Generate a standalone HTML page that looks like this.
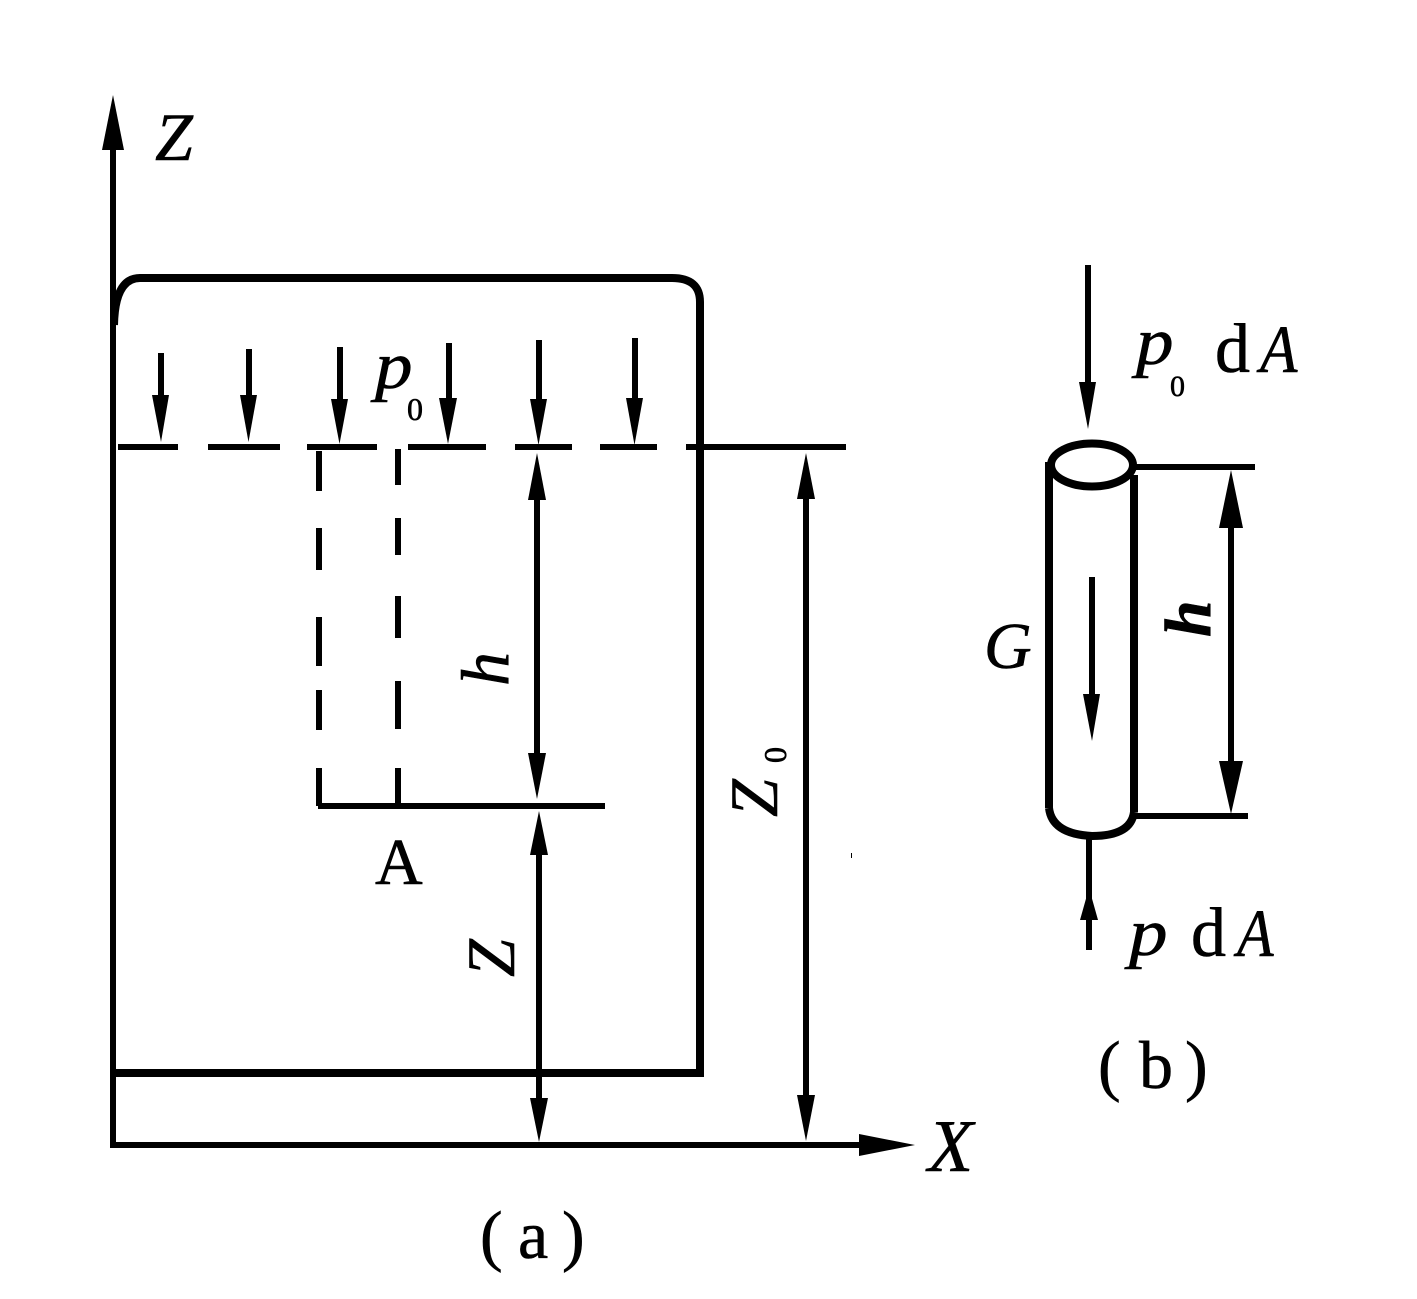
<!DOCTYPE html>
<html>
<head>
<meta charset="utf-8">
<style>
html,body{margin:0;padding:0;background:#fff;}
svg{display:block;}
text{font-family:"Liberation Serif",serif;fill:#000;stroke:#000;stroke-width:.6px;}
.i{font-style:italic;}
</style>
</head>
<body>
<svg width="1417" height="1299" viewBox="0 0 1417 1299" xmlns="http://www.w3.org/2000/svg">
<rect width="1417" height="1299" fill="#fff"/>
<!-- axes -->
<g fill="#000" shape-rendering="crispEdges">
<rect x="110" y="140" width="6" height="1008"/>
<rect x="110" y="1142" width="760" height="6"/>
</g>
<polygon points="113,95 124,150 102,150" fill="#000"/>
<polygon points="915,1145 859,1134 859,1156" fill="#000"/>
<!-- vessel -->
<path d="M113,1073 H700 V302 Q700,278 672,278 H140 Q115,278 114,325" fill="none" stroke="#000" stroke-width="8"/>
<!-- level dashes -->
<g fill="#000" shape-rendering="crispEdges">
<rect x="118" y="444" width="60" height="6"/>
<rect x="208" y="444" width="72" height="6"/>
<rect x="307" y="444" width="70" height="6"/>
<rect x="408" y="444" width="78" height="6"/>
<rect x="515" y="444" width="57" height="6"/>
<rect x="600" y="444" width="57" height="6"/>
<rect x="686" y="444" width="160" height="6"/>
<!-- vertical dashes -->
<rect x="316" y="451" width="6" height="40"/>
<rect x="316" y="528" width="6" height="42"/>
<rect x="316" y="617" width="6" height="49"/>
<rect x="316" y="690" width="6" height="40"/>
<rect x="316" y="768" width="6" height="38"/>
<rect x="395" y="449" width="6" height="36"/>
<rect x="395" y="518" width="6" height="37"/>
<rect x="395" y="596" width="6" height="42"/>
<rect x="395" y="681" width="6" height="48"/>
<rect x="395" y="768" width="6" height="38"/>
<rect x="318" y="803" width="287" height="6"/>
<!-- pressure arrow shafts -->
<rect x="158" y="353" width="6" height="44"/>
<rect x="246" y="349" width="6" height="48"/>
<rect x="337" y="347" width="6" height="54"/>
<rect x="446" y="343" width="6" height="57"/>
<rect x="536" y="340" width="6" height="61"/>
<rect x="632" y="338" width="6" height="62"/>
<!-- dimension shafts -->
<rect x="534" y="495" width="6" height="262"/>
<rect x="536" y="850" width="6" height="250"/>
<rect x="803" y="495" width="6" height="604"/>
<!-- right figure -->
<rect x="1085" y="265" width="6" height="120"/>
<rect x="1086" y="838" width="6" height="112"/>
<rect x="1089" y="577" width="6" height="120"/>
<rect x="1228" y="525" width="6" height="240"/>
<rect x="1136" y="464" width="119" height="6"/>
<rect x="1136" y="813" width="112" height="6"/>
<rect x="851" y="853" width="1" height="5"/>
</g>
<g fill="#000">
<polygon points="161,442 152,395 169,395"/>
<polygon points="248.500,442 240,395 257,395"/>
<polygon points="339.500,444 331,399 348,399"/>
<polygon points="448,444 439,398 457,398"/>
<polygon points="538.500,445 530,399 547,399"/>
<polygon points="634.500,445 626,398 643,398"/>
<!-- h dimension -->
<polygon points="537,453 546,500 528,500"/>
<polygon points="537,799 546,753 528,753"/>
<!-- Z dimension -->
<polygon points="539,811 548,855 530,855"/>
<polygon points="539,1142 548,1098 530,1098"/>
<!-- Z0 dimension -->
<polygon points="806,453 815,499 797,499"/>
<polygon points="806,1141 815,1095 797,1095"/>
<!-- right figure arrows -->
<polygon points="1088,429 1079,382 1096,382"/>
<polygon points="1089,888 1098,920 1080,920"/>
<polygon points="1092,741 1083,694 1100,694"/>
<polygon points="1231,470 1243,528 1219,528"/>
<polygon points="1231,814 1243,761 1219,761"/>
</g>
<!-- cylinder -->
<g fill="none" stroke="#000" stroke-width="8">
<ellipse cx="1092" cy="465" rx="41" ry="21.500"/>
<path d="M1049,462 V808"/>
<path d="M1134,475 V812"/>
<path d="M1049,808 Q1052,834 1092,836 Q1131,836 1134,812"/>
</g>
<!-- labels -->
<text class="i" x="155" y="160" font-size="68">Z</text>
<text class="i" x="928" y="1171" font-size="74">X</text>
<text class="i" transform="translate(375,388) scale(1.12,1)" font-size="67">p</text>
<text x="407" y="420" font-size="32">0</text>
<text x="375" y="884" font-size="66">A</text>
<text class="i" transform="translate(508,686) rotate(-90)" font-size="68">h</text>
<text class="i" transform="translate(514,977) rotate(-90)" font-size="68">Z</text>
<text class="i" transform="translate(777,817) rotate(-90)" font-size="68">Z</text>
<text transform="translate(786,763) rotate(-90)" font-size="32">0</text>
<text x="480" y="1258" font-size="68">(</text>
<text x="518" y="1258" font-size="68">a</text>
<text x="562" y="1258" font-size="68">)</text>
<text class="i" transform="translate(1136,364) scale(1.12,1)" font-size="67">p</text>
<text x="1170" y="396" font-size="30">0</text>
<text x="1215" y="372" font-size="70">d</text>
<text class="i" transform="translate(1260,372) scale(.9,1)" font-size="68">A</text>
<text class="i" x="984" y="668" font-size="66">G</text>
<text class="i" font-weight="bold" transform="translate(1210,637) rotate(-90)" font-size="66">h</text>
<text class="i" transform="translate(1129,955) scale(1.15,1)" font-size="67">p</text>
<text x="1191" y="956" font-size="70">d</text>
<text class="i" transform="translate(1237,956) scale(.88,1)" font-size="68">A</text>
<text x="1098" y="1088" font-size="68">(</text>
<text x="1139" y="1088" font-size="68">b</text>
<text x="1185" y="1088" font-size="68">)</text>
</svg>
</body>
</html>
